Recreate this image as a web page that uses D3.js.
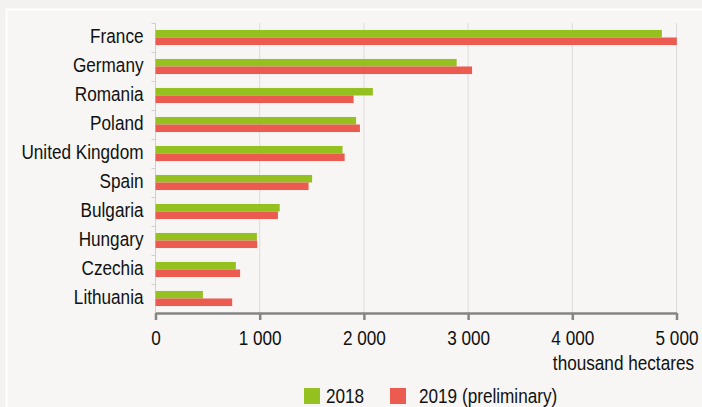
<!DOCTYPE html>
<html><head><meta charset="utf-8">
<script src="https://cdn.jsdelivr.net/npm/d3@7"></script>
<style>
html,body{margin:0;padding:0;background:#f3f2f0;}
svg{display:block;}
text{font-family:"Liberation Sans",Arial,sans-serif;fill:#111;}
</style></head><body>
<svg id="c" width="702" height="407"></svg>
<script>
const categories = ["France","Germany","Romania","Poland","United Kingdom","Spain","Bulgaria","Hungary","Czechia","Lithuania"];
const values2018 = [4860, 2890, 2086, 1925, 1795, 1503, 1192, 973, 771, 455];
const values2019 = [5003, 3038, 1901, 1962, 1815, 1469, 1175, 976, 812, 736];
const seriesNames = ["2018", "2019 (preliminary)"];
const tickValues = [0, 1000, 2000, 3000, 4000, 5000];
const unitLabel = "thousand hectares";
const colors = ["#94c11f", "#eb5b4f"];

(function(){
const FS = 19.5, SX = 0.88;
const svg = d3.select("#c");
svg.append("rect").attr("x",-5).attr("y",-5).attr("width",712).attr("height",417).attr("fill","#f3f2f0");
svg.append("rect").attr("x",6.5).attr("y",9.5).attr("width",710).attr("height",410)
  .attr("fill","#f7f6f4").attr("stroke","#ffffff").attr("stroke-width",2);

function label(parent, tx, ty, str, anchor){
  return parent.append("text")
    .attr("transform",`translate(${tx},${ty}) scale(${SX},1)`)
    .attr("text-anchor",anchor||"start").attr("font-size",FS).text(str);
}

const mLeft = 155.5, mRight = 676.5, mTop = 23, mBottom = 313;
const x = d3.scaleLinear().domain([0,5000]).range([mLeft,mRight]);
const y = d3.scaleBand().domain(categories).range([mTop,mBottom]).paddingInner(0.48).paddingOuter(0.24);
const sub = d3.scaleBand().domain(seriesNames).range([0,y.bandwidth()]);

svg.append("g").selectAll("line").data(tickValues.slice(1)).join("line")
  .attr("x1",d=>x(d)).attr("x2",d=>x(d)).attr("y1",mTop).attr("y2",mBottom)
  .attr("stroke","#dcdcdc").attr("stroke-width",1);

const yb = d3.scaleLinear().domain([0,categories.length]).range([mTop,mBottom]);
svg.append("line").attr("x1",mLeft).attr("x2",mLeft).attr("y1",mTop).attr("y2",mBottom)
  .attr("stroke","#d0d0d0").attr("stroke-width",1);
svg.append("g").selectAll("line").data(d3.range(categories.length)).join("line")
  .attr("x1",mLeft-4).attr("x2",mLeft).attr("y1",d=>yb(d)+0.5).attr("y2",d=>yb(d)+0.5)
  .attr("stroke","#d0d0d0");

const rows = categories.map((c,i)=>({c, v:[values2018[i], values2019[i]]}));
const g = svg.append("g");
rows.forEach(r=>{
  r.v.forEach((v,j)=>{
    g.append("rect")
      .attr("x",x(0)).attr("y",y(r.c)+sub(seriesNames[j]))
      .attr("width",x(v)-x(0)).attr("height",sub.bandwidth())
      .attr("fill",colors[j]);
  });
});

const lbl = svg.append("g");
categories.forEach(c=>{
  label(lbl, mLeft-12, y(c)+y.bandwidth()/2 + 5.5, c, "end");
});

const fmt = d => d===0 ? "0" : d3.format(",")(d).replace(/,/g," ");
const ax = svg.append("g").attr("transform",`translate(0,${mBottom})`)
  .call(d3.axisBottom(x).tickValues(tickValues).tickFormat(fmt).tickSize(7).tickSizeOuter(0));
ax.select(".domain").attr("stroke","#858585").attr("stroke-width",2.5);
ax.selectAll(".tick line").attr("stroke","#858585").attr("stroke-width",2.5);
ax.selectAll(".tick text").attr("font-size",FS).attr("fill","#111")
  .attr("font-family",'"Liberation Sans",Arial,sans-serif')
  .attr("y",32).attr("dy",null).attr("transform",`scale(${SX},1)`);

label(svg, 694, 369.5, unitLabel, "end");

const lg = svg.append("g");
const lx = [304, 390], tx = [326, 419];
seriesNames.forEach((s,j)=>{
  lg.append("rect").attr("x",lx[j]).attr("y",388).attr("width",16).attr("height",16).attr("fill",colors[j]);
  label(lg, tx[j], 403, s, "start");
});
})();
</script>
</body></html>
